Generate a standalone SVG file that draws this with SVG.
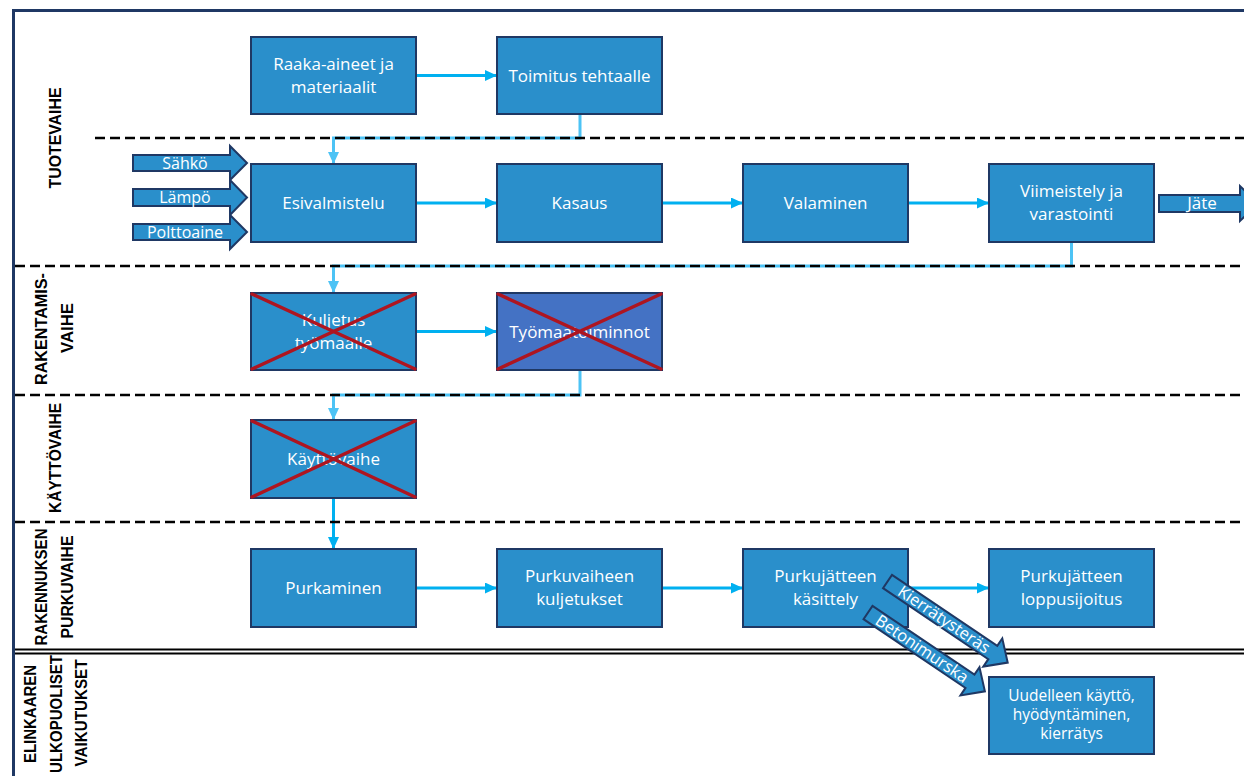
<svg xmlns="http://www.w3.org/2000/svg" width="1244" height="776" viewBox="0 0 1244 776">
<defs>
<style>
.box{fill:#2A8FCB;stroke:#1F3864;stroke-width:2}
.box2{fill:#4472C4;stroke:#1F3864;stroke-width:2}
.bt{font-family:"Open Sans","Noto Sans",sans-serif;font-size:17px;fill:#FFFFFF;text-anchor:middle}
.lbl{font-family:"Liberation Sans",Arial,sans-serif;font-weight:bold;font-size:16px;fill:#000000;text-anchor:middle}
.x{stroke:#AE1520;stroke-width:3.5;stroke-linecap:round}
.c{fill:none;stroke:#00B0F0;stroke-width:3}
.ce{fill:none;stroke:#4DC3F5;stroke-width:3}
.dash{stroke:#000000;stroke-width:2.5;stroke-dasharray:10,5;fill:none}
.frame{stroke:#1F3864;stroke-width:3;fill:none}
.blk{fill:#2A8FCB;stroke:#1F3864;stroke-width:2}
</style>
<marker id="ah" viewBox="0 0 12 11" refX="12" refY="5.5" markerWidth="12" markerHeight="11" markerUnits="userSpaceOnUse" orient="auto">
<path d="M0,0 L12,5.5 L0,11 z" fill="#00B0F0"/>
</marker>
<marker id="ahe" viewBox="0 0 12 11" refX="12" refY="5.5" markerWidth="12" markerHeight="11" markerUnits="userSpaceOnUse" orient="auto">
<path d="M0,0 L12,5.5 L0,11 z" fill="#4DC3F5"/>
</marker>
</defs>
<rect x="0" y="0" width="1244" height="776" fill="#FFFFFF"/>

<g id="connectors">
<line class="c" x1="417" y1="75.5" x2="497" y2="75.5" marker-end="url(#ah)"/>
<path class="ce" d="M580,114 V138 H333.5 V164" marker-end="url(#ahe)"/>
<line class="c" x1="417" y1="203" x2="497" y2="203" marker-end="url(#ah)"/>
<line class="c" x1="663" y1="203" x2="743" y2="203" marker-end="url(#ah)"/>
<line class="c" x1="909" y1="203" x2="989" y2="203" marker-end="url(#ah)"/>
<path class="ce" d="M1071.5,242 V266 H333.5 V293" marker-end="url(#ahe)"/>
<line class="c" x1="417" y1="331.5" x2="497" y2="331.5" marker-end="url(#ah)"/>
<path class="ce" d="M580,370 V395 H333.5 V420" marker-end="url(#ahe)"/>
<line class="c" x1="333.5" y1="498" x2="333.5" y2="549" marker-end="url(#ah)"/>
<line class="c" x1="417" y1="588" x2="497" y2="588" marker-end="url(#ah)"/>
<line class="c" x1="663" y1="588" x2="743" y2="588" marker-end="url(#ah)"/>
<line class="c" x1="909" y1="588" x2="989" y2="588" marker-end="url(#ah)"/>
</g>

<g id="lanes">
<line class="frame" x1="13.5" y1="9" x2="13.5" y2="776"/>
<line class="frame" x1="12" y1="10.5" x2="1244" y2="10.5"/>
<line class="dash" x1="95" y1="138" x2="1244" y2="138"/>
<line class="dash" x1="15" y1="266" x2="1244" y2="266"/>
<line class="dash" x1="15" y1="395" x2="1244" y2="395"/>
<line class="dash" x1="15" y1="522" x2="1244" y2="522"/>
<line x1="15" y1="649.5" x2="1244" y2="649.5" stroke="#000" stroke-width="2"/>
<line x1="15" y1="653.5" x2="1244" y2="653.5" stroke="#000" stroke-width="2"/>
<text class="lbl" transform="translate(61,138) rotate(-90)" textLength="101" lengthAdjust="spacingAndGlyphs">TUOTEVAIHE</text>
<text class="lbl" transform="translate(47,329) rotate(-90)" textLength="112" lengthAdjust="spacingAndGlyphs">RAKENTAMIS-</text>
<text class="lbl" transform="translate(73,328) rotate(-90)" textLength="50" lengthAdjust="spacingAndGlyphs">VAIHE</text>
<text class="lbl" transform="translate(61,458) rotate(-90)" textLength="110" lengthAdjust="spacingAndGlyphs">KÄYTTÖVAIHE</text>
<text class="lbl" transform="translate(47,587) rotate(-90)" textLength="117" lengthAdjust="spacingAndGlyphs">RAKENNUKSEN</text>
<text class="lbl" transform="translate(73,587) rotate(-90)" textLength="103" lengthAdjust="spacingAndGlyphs">PURKUVAIHE</text>
<text class="lbl" transform="translate(36,714) rotate(-90)" textLength="98" lengthAdjust="spacingAndGlyphs">ELINKAAREN</text>
<text class="lbl" transform="translate(62,714) rotate(-90)" textLength="118" lengthAdjust="spacingAndGlyphs">ULKOPUOLISET</text>
<text class="lbl" transform="translate(87,713) rotate(-90)" textLength="107" lengthAdjust="spacingAndGlyphs">VAIKUTUKSET</text>
</g>

<g id="raaka">
<rect class="box" x="251" y="37" width="165" height="77"/>
<text class="bt" x="333.5" y="70">Raaka-aineet ja</text>
<text class="bt" x="333.5" y="93">materiaalit</text>
</g>
<g id="toimitus">
<rect class="box" x="497" y="37" width="165" height="77"/>
<text class="bt" x="579.5" y="81.5">Toimitus tehtaalle</text>
</g>
<g id="esivalmistelu">
<rect class="box" x="251" y="164" width="165" height="78"/>
<text class="bt" x="333.5" y="209">Esivalmistelu</text>
</g>
<g id="kasaus">
<rect class="box" x="497" y="164" width="165" height="78"/>
<text class="bt" x="579.5" y="209">Kasaus</text>
</g>
<g id="valaminen">
<rect class="box" x="743" y="164" width="165" height="78"/>
<text class="bt" x="825.5" y="209">Valaminen</text>
</g>
<g id="viimeistely">
<rect class="box" x="989" y="164" width="165" height="78"/>
<text class="bt" x="1071.5" y="197">Viimeistely ja</text>
<text class="bt" x="1071.5" y="220">varastointi</text>
</g>
<g id="kuljetus">
<rect class="box" x="251" y="293" width="165" height="77"/>
<text class="bt" x="333.5" y="326">Kuljetus</text>
<text class="bt" x="333.5" y="349">työmaalle</text>
<line class="x" x1="252" y1="294" x2="415" y2="369"/>
<line class="x" x1="415" y1="294" x2="252" y2="369"/>
</g>
<g id="tyomaatoiminnot">
<rect class="box2" x="497" y="293" width="165" height="77"/>
<text class="bt" x="579.5" y="337.5">Työmaatoiminnot</text>
<line class="x" x1="498" y1="294" x2="661" y2="369"/>
<line class="x" x1="661" y1="294" x2="498" y2="369"/>
</g>
<g id="kayttovaihe">
<rect class="box" x="251" y="420" width="165" height="78"/>
<text class="bt" x="333.5" y="465">Käyttövaihe</text>
<line class="x" x1="252" y1="421" x2="415" y2="497"/>
<line class="x" x1="415" y1="421" x2="252" y2="497"/>
</g>
<g id="purkaminen">
<rect class="box" x="251" y="549" width="165" height="78"/>
<text class="bt" x="333.5" y="594">Purkaminen</text>
</g>
<g id="purkuvaiheen">
<rect class="box" x="497" y="549" width="165" height="78"/>
<text class="bt" x="579.5" y="582">Purkuvaiheen</text>
<text class="bt" x="579.5" y="605">kuljetukset</text>
</g>
<g id="kasittely">
<rect class="box" x="743" y="549" width="165" height="78"/>
<text class="bt" x="825.5" y="582">Purkujätteen</text>
<text class="bt" x="825.5" y="605">käsittely</text>
</g>
<g id="loppusijoitus">
<rect class="box" x="989" y="549" width="165" height="78"/>
<text class="bt" x="1071.5" y="582">Purkujätteen</text>
<text class="bt" x="1071.5" y="605">loppusijoitus</text>
</g>
<g id="uudelleen">
<rect class="box" x="989" y="677" width="165" height="77"/>
<text class="bt" x="1071.5" y="700.5" style="font-size:15.5px">Uudelleen käyttö,</text>
<text class="bt" x="1071.5" y="719.5" style="font-size:15.5px">hyödyntäminen,</text>
<text class="bt" x="1071.5" y="738.5" style="font-size:15.5px">kierrätys</text>
</g>

<g id="sahko">
<polygon class="blk" points="133,155 230,155 230,146 247,163 230,180 230,171 133,171"/>
<text class="bt" x="185" y="168.5" style="font-size:16px">Sähkö</text>
</g>
<g id="lampo">
<polygon class="blk" points="133,189 230,189 230,180 247,197.5 230,215 230,206 133,206"/>
<text class="bt" x="185" y="203" style="font-size:16px">Lämpö</text>
</g>
<g id="polttoaine">
<polygon class="blk" points="133,224 230,224 230,215 247,232 230,249 230,240 133,240"/>
<text class="bt" x="185" y="237.5" style="font-size:16px">Polttoaine</text>
</g>
<g id="jate">
<polygon class="blk" points="1159,195 1240,195 1240,186 1258,203.5 1240,221 1240,212 1159,212"/>
<text class="bt" x="1202" y="209">Jäte</text>
</g>
<g id="kierratysteras" transform="translate(887.5,581.5) rotate(34)">
<polygon class="blk" points="0,-8 127,-8 127,-17 145,0 127,17 127,8 0,8"/>
<text class="bt" x="68" y="5.5" style="font-size:16.5px">Kierrätysteräs</text>
</g>
<g id="betonimurska" transform="translate(868,612.5) rotate(34)">
<polygon class="blk" points="0,-8 123,-8 123,-17 141,0 123,17 123,8 0,8"/>
<text class="bt" x="65" y="5.5" style="font-size:16.5px">Betonimurska</text>
</g>
</svg>
